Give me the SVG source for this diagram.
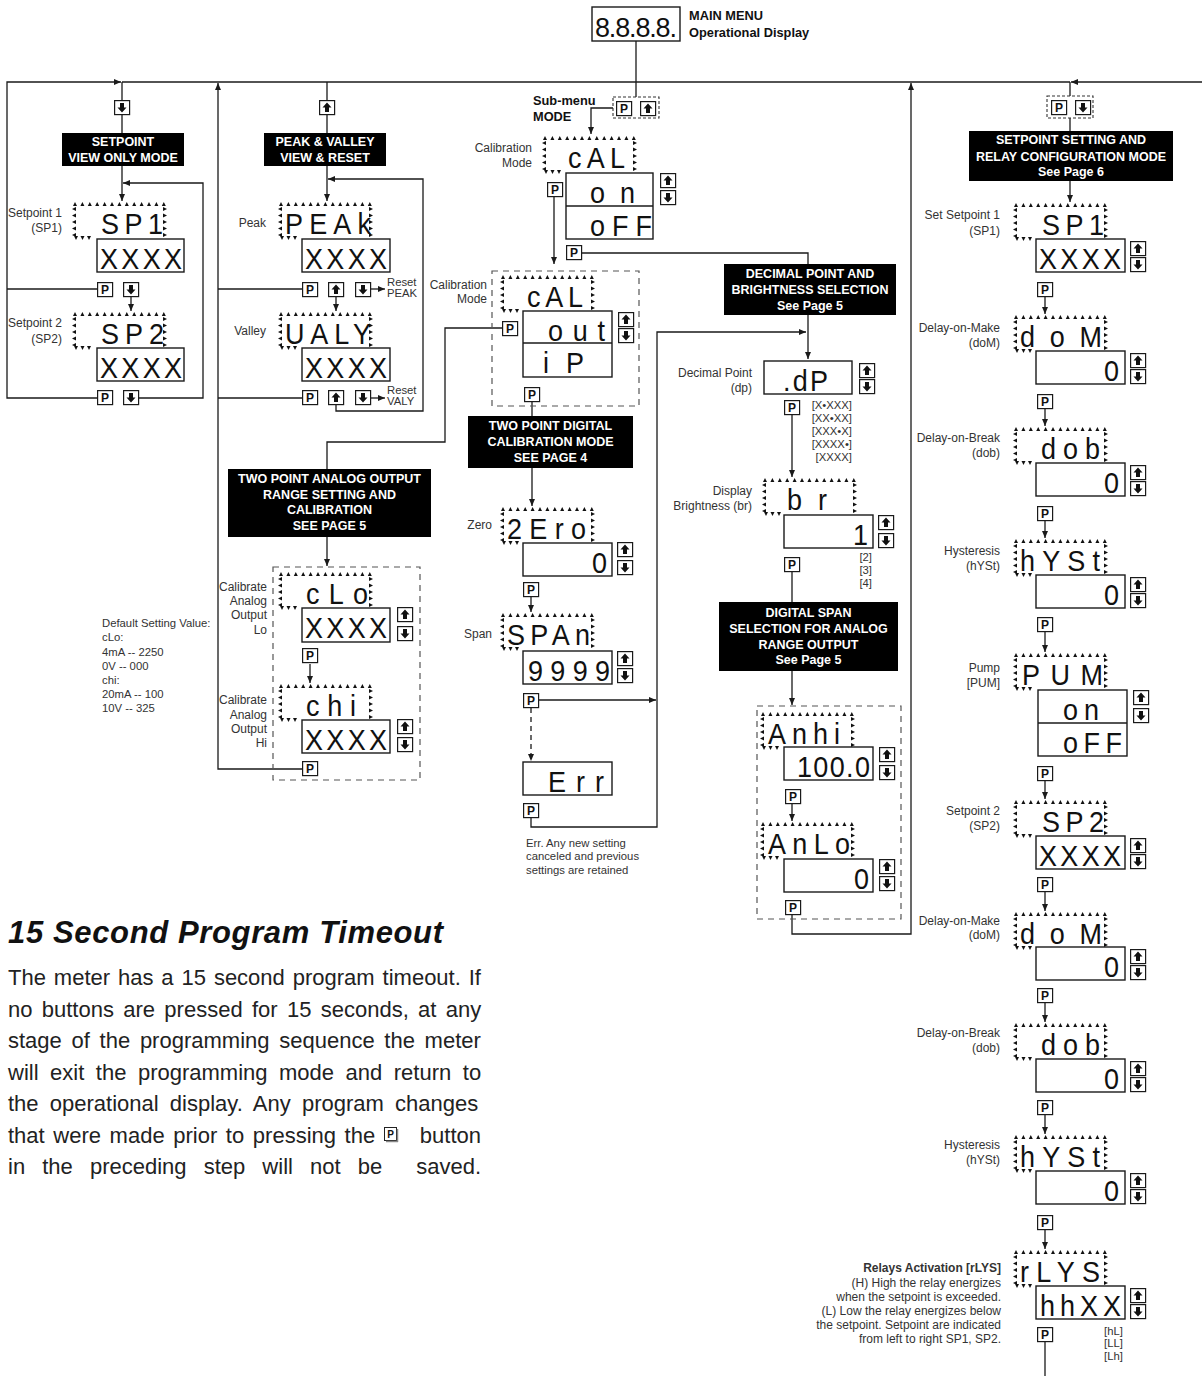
<svg xmlns="http://www.w3.org/2000/svg" width="1202" height="1376" viewBox="0 0 1202 1376">
<style>
.ln{fill:none;stroke:#1a1a1a;stroke-width:1.3}
.ar{marker-end:url(#ah)}
.dl{stroke-dasharray:5 4}
.vb{fill:#fff;stroke:#1a1a1a;stroke-width:1.4}
.dc{fill:none;stroke:#555;stroke-width:1.2;stroke-dasharray:6 5}
.db{fill:#fff;stroke:#333;stroke-width:1.1;stroke-dasharray:3 2}
.bb{fill:#000}
.bt{font-family:"Liberation Sans",Arial,sans-serif;font-weight:bold;font-size:12.5px;fill:#fff;text-anchor:middle}
.hb{font-family:"Liberation Sans",Arial,sans-serif;font-weight:bold;font-size:12.8px;fill:#111}
.lb{font-family:"Liberation Sans",Arial,sans-serif;font-size:12px;fill:#333;text-anchor:end}
.sm{font-family:"Liberation Sans",Arial,sans-serif;font-size:11.3px;fill:#333}
.se{text-anchor:end}
.sg{font-family:"Liberation Sans",Arial,sans-serif;font-size:27px;fill:#111}
.pb{font-family:"Liberation Sans",Arial,sans-serif;font-weight:bold;font-size:12px;fill:#111;text-anchor:middle}
.hd{font-family:"Liberation Sans",Arial,sans-serif;font-weight:bold;font-style:italic;font-size:31px;fill:#111}
.bd{font-family:"Liberation Sans",Arial,sans-serif;font-size:22px;fill:#222}
</style>
<defs>
<marker id="ah" markerUnits="userSpaceOnUse" markerWidth="7" markerHeight="6" viewBox="0 0 7 6" refX="7" refY="3" orient="auto"><path d="M0,0 L7,3 L0,6 z" fill="#1a1a1a"/></marker>
<g id="bP"><rect x="0.6" y="0.6" width="15" height="14" fill="#fff" stroke="#1a1a1a" stroke-width="1.2"/><text x="8" y="12" class="pb">P</text></g>
<g id="bU"><rect x="0.6" y="0.6" width="15" height="14" fill="#fff" stroke="#1a1a1a" stroke-width="1.2"/><path d="M8,2.5 L12.5,7.5 H10 V12 H6 V7.5 H3.5 Z" fill="#111"/></g>
<g id="bD"><rect x="0.6" y="0.6" width="15" height="14" fill="#fff" stroke="#1a1a1a" stroke-width="1.2"/><path d="M8,12.5 L12.5,7.5 H10 V3 H6 V7.5 H3.5 Z" fill="#111"/></g>
<g id="blink"><path fill="#111" d="M1,4h4l-2-4zM8.4,4h4l-2-4zM15.8,4h4l-2-4zM23.2,4h4l-2-4zM30.6,4h4l-2-4zM38,4h4l-2-4zM45.4,4h4l-2-4zM52.8,4h4l-2-4zM60.2,4h4l-2-4zM67.6,4h4l-2-4zM75,4h4l-2-4zM82.4,4h4l-2-4zM89.8,4h4l-2-4zM4,5v4l-4-2zM4,11.5v4l-4-2zM4,18v4l-4-2zM4,24.5v4l-4-2zM4,31v4l-4-2zM91,5v4l4-2zM91,11.5v4l4-2zM91,18v4l4-2zM91,24.5v4l4-2zM91,31v4l4-2zM2,34h4l-2,4zM8.5,34h4l-2,4zM15,34h4l-2,4z"/></g>
</defs>
<rect width="1202" height="1376" fill="#fff"/>

<g id="connectors">
<path class="ln" d="M122,82 H1070"/>
<path class="ln ar" d="M1202,82 H1071"/>
<path class="ln ar" d="M97,398 H7 V82 H121"/>
<path class="ln" d="M7,289 H97"/>
<path class="ln" d="M122,82 V133"/>
<path class="ln ar" d="M122,166 V201"/>
<path class="ln ar" d="M138,398 H203 V183 H123"/>
<path class="ln ar" d="M131,297 V311"/>
<path class="ln" d="M327,82 V133"/>
<path class="ln ar" d="M327,166 V201"/>
<path class="ln ar" d="M371,289 H385"/>
<path class="ln ar" d="M371,398 H385"/>
<path class="ln ar" d="M336,297 V311"/>
<path class="ln ar" d="M336,405 V411 H423 V179 H328"/>
<path class="ln ar" d="M302,769 H218 V83"/>
<path class="ln" d="M218,289 H302"/>
<path class="ln" d="M218,398 H302"/>
<path class="ln" d="M636,41 V97"/>
<path class="ln ar" d="M616,108 H591 V134"/>
<path class="ln ar" d="M554,197 V264"/>
<path class="ln" d="M582,253 H808 V264"/>
<path class="ln ar" d="M808,315 V359"/>
<path class="ln" d="M502,328 H445 V442 H327 V469"/>
<path class="ln ar" d="M327,537 V566"/>
<path class="ln ar" d="M310,664 V683"/>
<path class="ln" d="M532,402 V416"/>
<path class="ln ar" d="M532,468 V506"/>
<path class="ln ar" d="M531,597 V612"/>
<path class="ln ar" d="M539,700 H656"/>
<path class="ln ar dl" d="M531,708 V761"/>
<path class="ln ar" d="M531,818 V827 H657 V332 H806"/>
<path class="ln ar" d="M792,415 V477"/>
<path class="ln" d="M792,572 V602"/>
<path class="ln ar" d="M792,671 V705"/>
<path class="ln ar" d="M792,804 V821"/>
<path class="ln ar" d="M792,915 V934 H911 V83"/>
<path class="ln" d="M1070,82 V96"/>
<path class="ln" d="M1070,118 V131"/>
<path class="ln ar" d="M1070,181 V202"/>
<path class="ln ar" d="M1045,297 V314"/>
<path class="ln ar" d="M1045,409 V426"/>
<path class="ln ar" d="M1045,521 V538"/>
<path class="ln ar" d="M1045,632 V652"/>
<path class="ln ar" d="M1045,781 V799"/>
<path class="ln ar" d="M1045,892 V911"/>
<path class="ln ar" d="M1045,1003 V1022"/>
<path class="ln ar" d="M1045,1115 V1134"/>
<path class="ln ar" d="M1045,1230 V1249"/>
<path class="ln" d="M1045,1342 V1376"/>
</g>

<g id="main-menu">
<rect class="vb" x="592" y="7" width="88" height="34"/>
<text class="sg" transform="translate(595,37) scale(1,1.05)" textLength="82" lengthAdjust="spacing">8.8.8.8.</text>
<text class="hb" x="689" y="19.5">MAIN MENU</text>
<text class="hb" x="689" y="36.5">Operational Display</text>
</g>

<!-- Setpoint view only -->
<g id="sp-view-key"><use href="#bD" x="114" y="100"/></g>
<g id="sp-view-title"><rect class="bb" x="62" y="133" width="122" height="33"/><text class="bt" x="123" y="145.5">SETPOINT</text><text class="bt" x="123" y="161.5">VIEW ONLY MODE</text></g>
<g id="sp1-view">
<use href="#blink" x="72" y="202"/>
<rect class="vb" x="97" y="239" width="87" height="33"/>
<text class="sg" transform="translate(101,234) scale(1,1.1)" textLength="62" lengthAdjust="spacing">SP1</text>
<text class="sg" transform="translate(100,269) scale(1,1.1)" textLength="82" lengthAdjust="spacing">XXXX</text>
<text class="lb" x="62" y="217">Setpoint 1</text><text class="lb" x="62" y="232">(SP1)</text>
</g>
<g id="sp1-view-keys"><use href="#bP" x="97" y="282"/><use href="#bD" x="123" y="282"/></g>
<g id="sp2-view">
<use href="#blink" x="72" y="312"/>
<rect class="vb" x="97" y="348" width="87" height="33"/>
<text class="sg" transform="translate(101,344) scale(1,1.1)" textLength="63" lengthAdjust="spacing">SP2</text>
<text class="sg" transform="translate(100,378) scale(1,1.1)" textLength="82" lengthAdjust="spacing">XXXX</text>
<text class="lb" x="62" y="327">Setpoint 2</text><text class="lb" x="62" y="343">(SP2)</text>
</g>
<g id="sp2-view-keys"><use href="#bP" x="97" y="390"/><use href="#bD" x="123" y="390"/></g>

<!-- Peak & valley -->
<g id="pv-key"><use href="#bU" x="319" y="100"/></g>
<g id="pv-title"><rect class="bb" x="264" y="133" width="122" height="33"/><text class="bt" x="325" y="145.5">PEAK &amp; VALLEY</text><text class="bt" x="325" y="161.5">VIEW &amp; RESET</text></g>
<g id="peak">
<use href="#blink" x="278" y="202"/>
<rect class="vb" x="302" y="239" width="88" height="33"/>
<text class="sg" transform="translate(285,234) scale(1,1.1)" textLength="86" lengthAdjust="spacing">PEAk</text>
<text class="sg" transform="translate(305,269) scale(1,1.1)" textLength="82" lengthAdjust="spacing">XXXX</text>
<text class="lb" x="266" y="227">Peak</text>
</g>
<g id="peak-keys"><use href="#bP" x="302" y="282"/><use href="#bU" x="328" y="282"/><use href="#bD" x="355" y="282"/>
<text class="sm" x="387" y="286">Reset</text><text class="sm" x="387" y="297">PEAK</text></g>
<g id="valley">
<use href="#blink" x="278" y="312"/>
<rect class="vb" x="302" y="348" width="88" height="33"/>
<text class="sg" transform="translate(285,344) scale(1,1.1)" textLength="86" lengthAdjust="spacing">UALY</text>
<text class="sg" transform="translate(305,378) scale(1,1.1)" textLength="82" lengthAdjust="spacing">XXXX</text>
<text class="lb" x="266" y="335">Valley</text>
</g>
<g id="valley-keys"><use href="#bP" x="302" y="390"/><use href="#bU" x="328" y="390"/><use href="#bD" x="355" y="390"/>
<text class="sm" x="387" y="394">Reset</text><text class="sm" x="387" y="405">VALY</text></g>

<!-- Analog output -->
<g id="ao-title"><rect class="bb" x="228" y="469" width="203" height="68"/>
<text class="bt" x="329.5" y="482.5">TWO POINT ANALOG OUTPUT</text><text class="bt" x="329.5" y="498.5">RANGE SETTING AND</text><text class="bt" x="329.5" y="513.5">CALIBRATION</text><text class="bt" x="329.5" y="529.5">SEE PAGE 5</text></g>
<g id="ao-group"><rect class="dc" x="273" y="567" width="147" height="213"/></g>
<g id="clo">
<use href="#blink" x="278" y="572"/>
<rect class="vb" x="302" y="608" width="88" height="34"/>
<text class="sg" transform="translate(306,604) scale(1,1.1)" textLength="62" lengthAdjust="spacing">cLo</text>
<text class="sg" transform="translate(305,638) scale(1,1.1)" textLength="82" lengthAdjust="spacing">XXXX</text>
<use href="#bU" x="397" y="607"/><use href="#bD" x="397" y="626"/>
<text class="lb" x="267" y="591">Calibrate</text><text class="lb" x="267" y="605">Analog</text><text class="lb" x="267" y="619">Output</text><text class="lb" x="267" y="634">Lo</text>
</g>
<g id="clo-key"><use href="#bP" x="302" y="648"/></g>
<g id="chi">
<use href="#blink" x="278" y="684"/>
<rect class="vb" x="302" y="720" width="88" height="33"/>
<text class="sg" transform="translate(306,716) scale(1,1.1)" textLength="50" lengthAdjust="spacing">chi</text>
<text class="sg" transform="translate(305,750) scale(1,1.1)" textLength="82" lengthAdjust="spacing">XXXX</text>
<use href="#bU" x="397" y="719"/><use href="#bD" x="397" y="737"/>
<text class="lb" x="267" y="704">Calibrate</text><text class="lb" x="267" y="719">Analog</text><text class="lb" x="267" y="733">Output</text><text class="lb" x="267" y="747">Hi</text>
</g>
<g id="chi-key"><use href="#bP" x="302" y="761"/></g>
<g id="defaults">
<text class="sm" x="102" y="627">Default Setting Value:</text>
<text class="sm" x="102" y="641">cLo:</text>
<text class="sm" x="102" y="656">4mA -- 2250</text>
<text class="sm" x="102" y="670">0V -- 000</text>
<text class="sm" x="102" y="684">chi:</text>
<text class="sm" x="102" y="698">20mA -- 100</text>
<text class="sm" x="102" y="712">10V -- 325</text>
</g>

<!-- Calibration -->
<g id="submenu">
<rect class="db" x="613" y="97" width="46" height="21"/>
<use href="#bP" x="616" y="101"/><use href="#bU" x="640" y="101"/>
<text class="hb" x="533" y="104.5">Sub-menu</text><text class="hb" x="533" y="120.5">MODE</text>
</g>
<g id="cal-mode">
<use href="#blink" x="542" y="136"/>
<rect class="vb" x="566" y="173" width="87" height="66"/>
<line class="ln" x1="566" y1="206" x2="653" y2="206"/>
<text class="sg" transform="translate(568,168) scale(1,1.1)" textLength="57" lengthAdjust="spacing">cAL</text>
<text class="sg" transform="translate(590,203) scale(1,1.1)" textLength="45" lengthAdjust="spacing">on</text>
<text class="sg" transform="translate(590,236) scale(1,1.1)" textLength="62" lengthAdjust="spacing">oFF</text>
<use href="#bU" x="660" y="173"/><use href="#bD" x="660" y="190"/>
<text class="lb" x="532" y="152">Calibration</text><text class="lb" x="532" y="167">Mode</text>
</g>
<g id="cal-mode-key"><use href="#bP" x="547" y="182"/></g>
<g id="cal-mode-key2"><use href="#bP" x="566" y="245"/></g>
<g id="cal-out-group"><rect class="dc" x="492" y="271" width="147" height="135"/></g>
<g id="cal-out">
<use href="#blink" x="500" y="275"/>
<rect class="vb" x="523" y="311" width="89" height="66"/>
<line class="ln" x1="523" y1="343" x2="612" y2="343"/>
<text class="sg" transform="translate(527,307) scale(1,1.1)" textLength="56" lengthAdjust="spacing">cAL</text>
<text class="sg" transform="translate(548,341) scale(1,1.1)" textLength="57" lengthAdjust="spacing">out</text>
<text class="sg" transform="translate(543,373) scale(1,1.1)" textLength="41" lengthAdjust="spacing">iP</text>
<use href="#bU" x="618" y="312"/><use href="#bD" x="618" y="328"/>
<text class="lb" x="487" y="289">Calibration</text><text class="lb" x="487" y="303">Mode</text>
<use href="#bP" x="502" y="321"/>
</g>
<g id="cal-out-key"><use href="#bP" x="524" y="387"/></g>
<g id="dcal-title"><rect class="bb" x="468" y="416" width="165" height="52"/>
<text class="bt" x="550.5" y="429.5">TWO POINT DIGITAL</text><text class="bt" x="550.5" y="445.5">CALIBRATION MODE</text><text class="bt" x="550.5" y="461.5">SEE PAGE 4</text></g>
<g id="zero">
<use href="#blink" x="500" y="507"/>
<rect class="vb" x="523" y="543" width="89" height="33"/>
<text class="sg" transform="translate(507,539) scale(1,1.1)" textLength="79" lengthAdjust="spacing">2Ero</text>
<text class="sg se" transform="translate(607,573) scale(1,1.1)">0</text>
<use href="#bU" x="617" y="542"/><use href="#bD" x="617" y="560"/>
<text class="lb" x="492" y="529">Zero</text>
</g>
<g id="zero-key"><use href="#bP" x="523" y="582"/></g>
<g id="span">
<use href="#blink" x="500" y="613"/>
<rect class="vb" x="523" y="651" width="89" height="33"/>
<text class="sg" transform="translate(507,645) scale(1,1.1)" textLength="83" lengthAdjust="spacing">SPAn</text>
<text class="sg" transform="translate(528,681) scale(1,1.1)" textLength="82" lengthAdjust="spacing">9999</text>
<use href="#bU" x="617" y="651"/><use href="#bD" x="617" y="668"/>
<text class="lb" x="492" y="638">Span</text>
</g>
<g id="span-key"><use href="#bP" x="523" y="693"/></g>
<g id="err">
<rect class="vb" x="523" y="762" width="89" height="33"/>
<text class="sg" transform="translate(548,792) scale(1,1.1)" textLength="56" lengthAdjust="spacing">Err</text>
</g>
<g id="err-key"><use href="#bP" x="523" y="803"/></g>
<g id="err-note">
<text class="sm" x="526" y="847">Err. Any new setting</text>
<text class="sm" x="526" y="860">canceled and previous</text>
<text class="sm" x="526" y="874">settings are retained</text>
</g>

<!-- Decimal point / brightness -->
<g id="dp-title"><rect class="bb" x="724" y="264" width="172" height="51"/>
<text class="bt" x="810" y="277.5">DECIMAL POINT AND</text><text class="bt" x="810" y="293.5">BRIGHTNESS SELECTION</text><text class="bt" x="810" y="309.5">See Page 5</text></g>
<g id="dp">
<rect class="vb" x="764" y="361" width="88" height="33"/>
<text class="sg" transform="translate(783,391) scale(1,1.1)" textLength="45" lengthAdjust="spacing">.dP</text>
<use href="#bU" x="859" y="363"/><use href="#bD" x="859" y="379"/>
<text class="lb" x="752" y="377">Decimal Point</text><text class="lb" x="752" y="392">(dp)</text>
</g>
<g id="dp-key"><use href="#bP" x="784" y="400"/>
<text class="sm se" x="852" y="409">[X•XXX]</text><text class="sm se" x="852" y="422">[XX•XX]</text><text class="sm se" x="852" y="435">[XXX•X]</text><text class="sm se" x="852" y="448">[XXXX•]</text><text class="sm se" x="852" y="461">[XXXX]</text></g>
<g id="br">
<use href="#blink" x="762" y="478"/>
<rect class="vb" x="784" y="515" width="89" height="33"/>
<text class="sg" transform="translate(787,510) scale(1,1.1)" textLength="40" lengthAdjust="spacing">br</text>
<text class="sg se" transform="translate(868,545) scale(1,1.1)">1</text>
<use href="#bU" x="878" y="515"/><use href="#bD" x="878" y="533"/>
<text class="lb" x="752" y="495">Display</text><text class="lb" x="752" y="510">Brightness (br)</text>
<text class="sm se" x="872" y="561">[2]</text><text class="sm se" x="872" y="574">[3]</text><text class="sm se" x="872" y="587">[4]</text>
</g>
<g id="br-key"><use href="#bP" x="784" y="557"/></g>
<g id="span-title"><rect class="bb" x="719" y="602" width="179" height="69"/>
<text class="bt" x="808.5" y="616.5">DIGITAL SPAN</text><text class="bt" x="808.5" y="632.5">SELECTION FOR  ANALOG</text><text class="bt" x="808.5" y="648.5">RANGE OUTPUT</text><text class="bt" x="808.5" y="663.5">See Page 5</text></g>
<g id="an-group"><rect class="dc" x="757" y="706" width="144" height="213"/></g>
<g id="anhi">
<use href="#blink" x="760" y="712"/>
<rect class="vb" x="784" y="747" width="89" height="33"/>
<text class="sg" transform="translate(768,744) scale(1,1.1)" textLength="72" lengthAdjust="spacing">Anhi</text>
<text class="sg" transform="translate(797,777) scale(1,1.1)" textLength="73" lengthAdjust="spacing">100.0</text>
<use href="#bU" x="879" y="747"/><use href="#bD" x="879" y="765"/>
</g>
<g id="anhi-key"><use href="#bP" x="785" y="789"/></g>
<g id="anlo">
<use href="#blink" x="760" y="822"/>
<rect class="vb" x="784" y="859" width="89" height="33"/>
<text class="sg" transform="translate(768,854) scale(1,1.1)" textLength="82" lengthAdjust="spacing">AnLo</text>
<text class="sg se" transform="translate(869,889) scale(1,1.1)">0</text>
<use href="#bU" x="879" y="859"/><use href="#bD" x="879" y="876"/>
</g>
<g id="anlo-key"><use href="#bP" x="785" y="900"/></g>

<!-- Setpoint setting / relay configuration -->
<g id="set-key"><rect class="db" x="1047" y="96" width="46" height="22"/><use href="#bP" x="1051" y="100"/><use href="#bD" x="1075" y="100"/></g>
<g id="set-title"><rect class="bb" x="969" y="131" width="204" height="50"/>
<text class="bt" x="1071" y="143.5">SETPOINT SETTING  AND</text><text class="bt" x="1071" y="160.5">RELAY CONFIGURATION MODE</text><text class="bt" x="1071" y="175.5">See Page 6</text></g>

<g id="set-sp1">
<use href="#blink" x="1013" y="203"/>
<rect class="vb" x="1036" y="239" width="89" height="33"/>
<text class="sg" transform="translate(1042,235) scale(1,1.1)" textLength="62" lengthAdjust="spacing">SP1</text>
<text class="sg" transform="translate(1039,269) scale(1,1.1)" textLength="82" lengthAdjust="spacing">XXXX</text>
<use href="#bU" x="1130" y="241"/><use href="#bD" x="1130" y="257"/>
<text class="lb" x="1000" y="219">Set Setpoint 1</text><text class="lb" x="1000" y="235">(SP1)</text>
<use href="#bP" x="1037" y="282"/>
</g>
<g id="set-dom1">
<use href="#blink" x="1013" y="315"/>
<rect class="vb" x="1036" y="351" width="89" height="33"/>
<text class="sg" transform="translate(1020,347) scale(1,1.1)" textLength="82" lengthAdjust="spacing">doM</text>
<text class="sg se" transform="translate(1119,381) scale(1,1.1)">0</text>
<use href="#bU" x="1130" y="353"/><use href="#bD" x="1130" y="369"/>
<text class="lb" x="1000" y="332">Delay-on-Make</text><text class="lb" x="1000" y="347">(doM)</text>
<use href="#bP" x="1037" y="394"/>
</g>
<g id="set-dob1">
<use href="#blink" x="1013" y="427"/>
<rect class="vb" x="1036" y="463" width="89" height="33"/>
<text class="sg" transform="translate(1041,459) scale(1,1.1)" textLength="59" lengthAdjust="spacing">dob</text>
<text class="sg se" transform="translate(1119,493) scale(1,1.1)">0</text>
<use href="#bU" x="1130" y="465"/><use href="#bD" x="1130" y="481"/>
<text class="lb" x="1000" y="442">Delay-on-Break</text><text class="lb" x="1000" y="457">(dob)</text>
<use href="#bP" x="1037" y="506"/>
</g>
<g id="set-hyst1">
<use href="#blink" x="1013" y="539"/>
<rect class="vb" x="1036" y="575" width="89" height="33"/>
<text class="sg" transform="translate(1020,571) scale(1,1.1)" textLength="80" lengthAdjust="spacing">hYSt</text>
<text class="sg se" transform="translate(1119,605) scale(1,1.1)">0</text>
<use href="#bU" x="1130" y="577"/><use href="#bD" x="1130" y="593"/>
<text class="lb" x="1000" y="555">Hysteresis</text><text class="lb" x="1000" y="570">(hYSt)</text>
<use href="#bP" x="1037" y="617"/>
</g>
<g id="set-pump">
<use href="#blink" x="1013" y="653"/>
<rect class="vb" x="1038" y="690" width="89" height="66"/>
<line class="ln" x1="1038" y1="723" x2="1127" y2="723"/>
<text class="sg" transform="translate(1022,685) scale(1,1.1)" textLength="81" lengthAdjust="spacing">PUM</text>
<text class="sg" transform="translate(1063,720) scale(1,1.1)" textLength="36" lengthAdjust="spacing">on</text>
<text class="sg" transform="translate(1063,753) scale(1,1.1)" textLength="59" lengthAdjust="spacing">oFF</text>
<use href="#bU" x="1133" y="690"/><use href="#bD" x="1133" y="708"/>
<text class="lb" x="1000" y="672">Pump</text><text class="lb" x="1000" y="687">[PUM]</text>
<use href="#bP" x="1037" y="766"/>
</g>
<g id="set-sp2">
<use href="#blink" x="1013" y="800"/>
<rect class="vb" x="1036" y="836" width="89" height="33"/>
<text class="sg" transform="translate(1042,832) scale(1,1.1)" textLength="62" lengthAdjust="spacing">SP2</text>
<text class="sg" transform="translate(1039,866) scale(1,1.1)" textLength="82" lengthAdjust="spacing">XXXX</text>
<use href="#bU" x="1130" y="838"/><use href="#bD" x="1130" y="854"/>
<text class="lb" x="1000" y="815">Setpoint 2</text><text class="lb" x="1000" y="830">(SP2)</text>
<use href="#bP" x="1037" y="877"/>
</g>
<g id="set-dom2">
<use href="#blink" x="1013" y="912"/>
<rect class="vb" x="1036" y="947" width="89" height="33"/>
<text class="sg" transform="translate(1020,944) scale(1,1.1)" textLength="82" lengthAdjust="spacing">doM</text>
<text class="sg se" transform="translate(1119,977) scale(1,1.1)">0</text>
<use href="#bU" x="1130" y="949"/><use href="#bD" x="1130" y="965"/>
<text class="lb" x="1000" y="925">Delay-on-Make</text><text class="lb" x="1000" y="939">(doM)</text>
<use href="#bP" x="1037" y="988"/>
</g>
<g id="set-dob2">
<use href="#blink" x="1013" y="1023"/>
<rect class="vb" x="1036" y="1059" width="89" height="33"/>
<text class="sg" transform="translate(1041,1055) scale(1,1.1)" textLength="59" lengthAdjust="spacing">dob</text>
<text class="sg se" transform="translate(1119,1089) scale(1,1.1)">0</text>
<use href="#bU" x="1130" y="1061"/><use href="#bD" x="1130" y="1077"/>
<text class="lb" x="1000" y="1037">Delay-on-Break</text><text class="lb" x="1000" y="1052">(dob)</text>
<use href="#bP" x="1037" y="1100"/>
</g>
<g id="set-hyst2">
<use href="#blink" x="1013" y="1135"/>
<rect class="vb" x="1036" y="1171" width="89" height="33"/>
<text class="sg" transform="translate(1020,1167) scale(1,1.1)" textLength="80" lengthAdjust="spacing">hYSt</text>
<text class="sg se" transform="translate(1119,1201) scale(1,1.1)">0</text>
<use href="#bU" x="1130" y="1173"/><use href="#bD" x="1130" y="1189"/>
<text class="lb" x="1000" y="1149">Hysteresis</text><text class="lb" x="1000" y="1164">(hYSt)</text>
<use href="#bP" x="1037" y="1215"/>
</g>
<g id="set-relays">
<use href="#blink" x="1013" y="1250"/>
<rect class="vb" x="1036" y="1286" width="89" height="33"/>
<text class="sg" transform="translate(1020,1282) scale(1,1.1)" textLength="80" lengthAdjust="spacing">rLYS</text>
<text class="sg" transform="translate(1040,1316) scale(1,1.1)" textLength="81" lengthAdjust="spacing">hhXX</text>
<use href="#bU" x="1130" y="1288"/><use href="#bD" x="1130" y="1304"/>
<text class="lb" x="1001" y="1272" font-size="11px" font-weight="bold" fill="#222">Relays Activation [rLYS]</text>
<text class="lb" x="1001" y="1287" font-size="11px">(H) High the relay energizes</text>
<text class="lb" x="1001" y="1301" font-size="11px">when the setpoint is exceeded.</text>
<text class="lb" x="1001" y="1315" font-size="11px">(L) Low the relay energizes below</text>
<text class="lb" x="1001" y="1329" font-size="11px">the setpoint. Setpoint are indicated</text>
<text class="lb" x="1001" y="1343" font-size="11px">from left to right SP1, SP2.</text>
<use href="#bP" x="1037" y="1327"/>
<text class="sm" x="1104" y="1335">[hL]</text><text class="sm" x="1104" y="1347">[LL]</text><text class="sm" x="1104" y="1360">[Lh]</text>
</g>

<!-- Timeout note -->
<g id="timeout-note">
<text class="hd" x="8" y="943" textLength="435" lengthAdjust="spacing">15 Second Program Timeout</text>
<text class="bd" x="8" y="985" style="word-spacing:1.8px">The meter has a 15 second program timeout. If</text>
<text class="bd" x="8" y="1016.5" style="word-spacing:3.2px">no buttons are pressed for 15 seconds, at any</text>
<text class="bd" x="8" y="1048" style="word-spacing:3.6px">stage of the programming sequence the meter</text>
<text class="bd" x="8" y="1079.5" style="word-spacing:5.4px">will exit the programming mode and return to</text>
<text class="bd" x="8" y="1111" style="word-spacing:5.1px">the operational display. Any program changes</text>
<text class="bd" x="8" y="1142.5" style="word-spacing:2.5px">that were made prior to pressing the</text>
<rect x="384.5" y="1127.5" width="12" height="13" fill="#fff" stroke="#222" stroke-width="1"/>
<line x1="397.5" y1="1129" x2="397.5" y2="1142" stroke="#888" stroke-width="1.5"/>
<line x1="386" y1="1141.5" x2="398" y2="1141.5" stroke="#888" stroke-width="1.5"/>
<text x="390.5" y="1138" font-family="Liberation Sans, Arial, sans-serif" font-weight="bold" font-size="10px" text-anchor="middle" fill="#111">P</text>
<text class="bd" x="481" y="1142.5" text-anchor="end">button</text>
<text class="bd" x="8" y="1174" style="word-spacing:11px">in the preceding step will not be</text>
<text class="bd" x="481" y="1174" text-anchor="end">saved.</text>
</g>
</svg>
